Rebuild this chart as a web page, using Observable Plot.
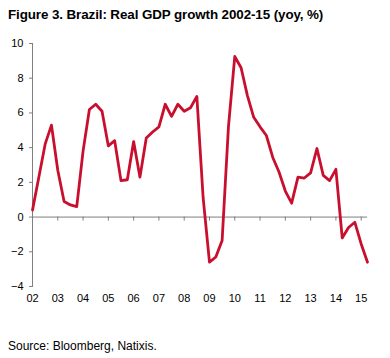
<!DOCTYPE html>
<html><head><meta charset="utf-8">
<script src="https://cdn.jsdelivr.net/npm/d3@7"></script>
<script src="https://cdn.jsdelivr.net/npm/@observablehq/plot@0.6"></script>
<style>
body{margin:0;background:#fff;font-family:"Liberation Sans",Arial,Helvetica,sans-serif;color:#000;}
#wrap{position:relative;width:390px;height:358px;overflow:hidden;}
#title{position:absolute;left:8px;top:7px;font-weight:bold;font-size:13.4px;line-height:15px;white-space:nowrap;letter-spacing:-0.1px;}
#chart{position:absolute;left:0;top:0;}
#source{position:absolute;left:8px;top:339px;font-size:12px;line-height:14px;white-space:nowrap;}
</style></head>
<body>
<div id="wrap">
<div id="chart"></div>
<div id="title">Figure 3. Brazil: Real GDP growth 2002-15 (yoy, %)</div>
<div id="source">Source: Bloomberg, Natixis.</div>
</div>
<script>
const startYear = 2002;
// Real GDP growth yoy %, quarterly from 2002Q1 to 2015Q2
const gdpGrowth = [
  0.4, 2.3, 4.2, 5.3,
  2.7, 0.9, 0.7, 0.6,
  3.8, 6.2, 6.5, 6.1,
  4.1, 4.4, 2.1, 2.15,
  4.35, 2.3, 4.55, 4.9,
  5.2, 6.5, 5.8, 6.5,
  6.1, 6.3, 6.95, 1.1,
  -2.6, -2.3, -1.35, 5.2,
  9.25, 8.6, 7.0, 5.75,
  5.2, 4.7, 3.45, 2.6,
  1.5, 0.8, 2.3, 2.25,
  2.55, 3.95, 2.4, 2.1,
  2.75, -1.2, -0.6, -0.3,
  -1.55, -2.6
];
const tickYears = [2002,2003,2004,2005,2006,2007,2008,2009,2010,2011,2012,2013,2014,2015];
const tickLabels = ["02","03","04","05","06","07","08","09","10","11","12","13","14","15"];
const yTicks = [-4,-2,0,2,4,6,8,10];

const data = gdpGrowth.map((v, i) => ({t: startYear + i / 4, v}));
const axisGray = "#7f7f7f";

const chart = Plot.plot({
  width: 390,
  height: 325,
  marginLeft: 32,
  marginRight: 23,
  marginTop: 43,
  marginBottom: 39,
  x: {domain: [startYear, startYear + (gdpGrowth.length - 1) / 4], label: null},
  y: {domain: [-4, 10], label: null},
  style: {fontFamily: '"Liberation Sans", Arial, sans-serif', fontSize: "11px", color: "#000", background: "#fff"},
  marks: [
    Plot.ruleY([0], {stroke: axisGray, strokeWidth: 1}),
    Plot.frame({anchor: "left", stroke: axisGray}),
    Plot.ruleX(tickYears.slice(1), {x: d => d, y1: 0, y2: 0, insetBottom: -4, stroke: axisGray}),
    Plot.axisY({ticks: yTicks, tickSize: 3, tickPadding: 6, stroke: axisGray, label: null}),
    Plot.axisX({ticks: tickYears, tickSize: 0, tickPadding: 8, tickFormat: (d) => tickLabels[tickYears.indexOf(d)], label: null}),
    Plot.line(data, {x: "t", y: "v", stroke: "#c8102e", strokeWidth: 2.8})
  ]
});
document.getElementById("chart").appendChild(chart);
</script>
</body></html>
